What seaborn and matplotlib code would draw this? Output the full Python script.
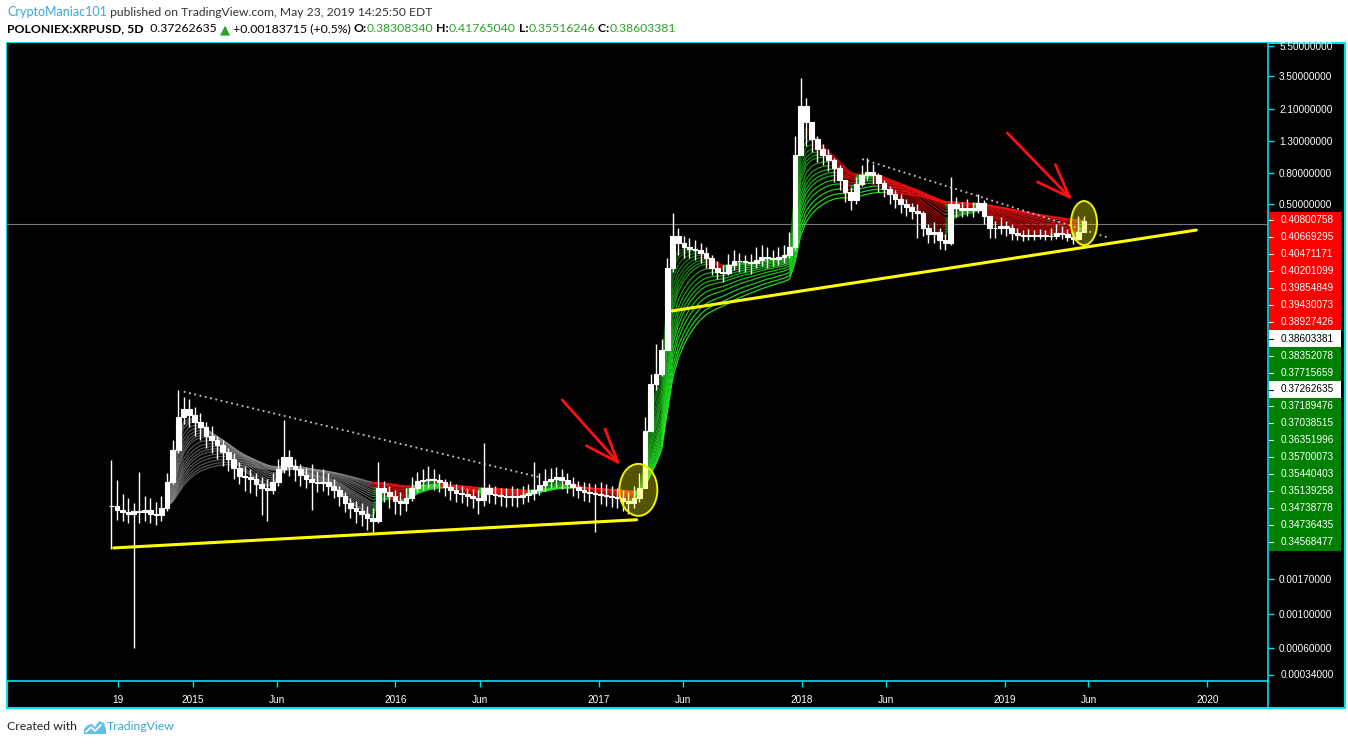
import numpy as np
import pandas as pd
import matplotlib
matplotlib.use("Agg")
import matplotlib.pyplot as plt
import matplotlib.dates as mdates
from matplotlib.collections import LineCollection
from matplotlib.patches import Ellipse, Rectangle, Polygon
from matplotlib.lines import Line2D
from matplotlib.ticker import FixedLocator, NullLocator
import seaborn as sns

W, H = 1348, 745

# XRPUSD, one bar every 10 days starting 2014-08-08
bar_start = "2014-08-08"
bar_step = "10D"
closes = [
    0.0052, 0.0049, 0.0047, 0.0046, 0.0048, 0.0047, 0.0049, 0.0046, 0.0045, 0.0050,
    0.0074, 0.0120, 0.0200, 0.0225, 0.0205, 0.0185, 0.0170, 0.0150, 0.0140, 0.0130,
    0.0118, 0.0105, 0.0092, 0.0082, 0.0080, 0.0078, 0.0072, 0.0068, 0.0066, 0.0074,
    0.0090, 0.0108, 0.0095, 0.0090, 0.0083, 0.0078, 0.0074, 0.0073, 0.0074, 0.0070,
    0.0066, 0.0060, 0.0054, 0.0050, 0.0048, 0.0046, 0.0043, 0.0041, 0.0068, 0.0064,
    0.0060, 0.0056, 0.0054, 0.0058, 0.0068, 0.0075, 0.0077, 0.0078, 0.0077, 0.0074,
    0.0069, 0.0066, 0.0063, 0.0062, 0.0060, 0.0058, 0.0057, 0.0068, 0.0062, 0.0061,
    0.0060, 0.0059, 0.0060, 0.0059, 0.0061, 0.0063, 0.0066, 0.0071, 0.0075, 0.0078,
    0.0080, 0.0077, 0.0072, 0.0069, 0.0066, 0.0064, 0.0063, 0.0062, 0.0061, 0.0060,
    0.0059, 0.0058, 0.0056, 0.0054, 0.0058, 0.0068, 0.0160, 0.0330, 0.0380, 0.0550,
    0.190, 0.310, 0.280, 0.260, 0.255, 0.250, 0.240, 0.220, 0.190, 0.180,
    0.176, 0.200, 0.210, 0.212, 0.208, 0.205, 0.215, 0.225, 0.220, 0.218,
    0.225, 0.230, 0.260, 1.050, 2.200, 1.750, 1.350, 1.150, 1.050, 0.980,
    0.860, 0.720, 0.600, 0.530, 0.680, 0.780, 0.820, 0.780, 0.690, 0.630,
    0.580, 0.540, 0.500, 0.480, 0.450, 0.440, 0.350, 0.320, 0.330, 0.290,
    0.280, 0.500, 0.470, 0.460, 0.470, 0.460, 0.510, 0.420, 0.350, 0.350,
    0.360, 0.350, 0.325, 0.315, 0.310, 0.315, 0.310, 0.315, 0.310, 0.310,
    0.325, 0.320, 0.305, 0.295, 0.330, 0.386,
]
highs = [
    0.0104, 0.0077, 0.0062, 0.0058, 0.0054, 0.0086, 0.0060, 0.0058, 0.0055, 0.0060,
    0.0085, 0.0140, 0.0300, 0.0270, 0.0260, 0.0230, 0.0210, 0.0185, 0.0175, 0.0150,
    0.0140, 0.0125, 0.0115, 0.0100, 0.0095, 0.0090, 0.0085, 0.0080, 0.0078, 0.0085,
    0.0105, 0.0190, 0.0120, 0.0105, 0.0098, 0.0092, 0.0098, 0.0088, 0.0090, 0.0085,
    0.0078, 0.0070, 0.0064, 0.0058, 0.0056, 0.0054, 0.0052, 0.0050, 0.0100, 0.0075,
    0.0070, 0.0066, 0.0064, 0.0068, 0.0080, 0.0086, 0.0090, 0.0095, 0.0090, 0.0084,
    0.0078, 0.0075, 0.0072, 0.0070, 0.0068, 0.0067, 0.0066, 0.0134, 0.0072, 0.0070,
    0.0068, 0.0068, 0.0070, 0.0068, 0.0070, 0.0072, 0.0100, 0.0085, 0.0090, 0.0092,
    0.0094, 0.0090, 0.0085, 0.0080, 0.0076, 0.0074, 0.0073, 0.0072, 0.0074, 0.0072,
    0.0070, 0.0068, 0.0066, 0.0064, 0.0070, 0.0085, 0.0200, 0.0380, 0.0600, 0.0650,
    0.220, 0.440, 0.350, 0.310, 0.300, 0.290, 0.280, 0.260, 0.230, 0.210,
    0.200, 0.235, 0.250, 0.240, 0.230, 0.235, 0.260, 0.270, 0.260, 0.250,
    0.260, 0.270, 0.330, 1.400, 3.400, 2.500, 1.600, 1.400, 1.250, 1.150,
    1.000, 0.900, 0.720, 0.650, 0.750, 0.900, 1.000, 0.920, 0.800, 0.720,
    0.660, 0.620, 0.580, 0.540, 0.510, 0.500, 0.450, 0.370, 0.380, 0.350,
    0.320, 0.760, 0.560, 0.520, 0.540, 0.520, 0.580, 0.530, 0.420, 0.390,
    0.410, 0.390, 0.370, 0.350, 0.340, 0.345, 0.340, 0.345, 0.340, 0.350,
    0.370, 0.360, 0.345, 0.330, 0.420, 0.4177,
]
lows = [
    0.0027, 0.0042, 0.0041, 0.0040, 0.0006, 0.0040, 0.0041, 0.0040, 0.0039, 0.0041,
    0.0048, 0.0072, 0.0115, 0.0180, 0.0170, 0.0150, 0.0140, 0.0125, 0.0115, 0.0105,
    0.0095, 0.0088, 0.0078, 0.0072, 0.0065, 0.0063, 0.0060, 0.0045, 0.0041, 0.0062,
    0.0070, 0.0085, 0.0082, 0.0075, 0.0070, 0.0068, 0.0049, 0.0064, 0.0065, 0.0061,
    0.0058, 0.0052, 0.0047, 0.0043, 0.0040, 0.0038, 0.0036, 0.0035, 0.0040, 0.0055,
    0.0050, 0.0046, 0.0045, 0.0048, 0.0056, 0.0064, 0.0066, 0.0068, 0.0066, 0.0064,
    0.0060, 0.0057, 0.0055, 0.0054, 0.0052, 0.0050, 0.0046, 0.0052, 0.0054, 0.0053,
    0.0052, 0.0051, 0.0052, 0.0051, 0.0053, 0.0055, 0.0057, 0.0061, 0.0065, 0.0068,
    0.0069, 0.0067, 0.0063, 0.0060, 0.0058, 0.0056, 0.0055, 0.0035, 0.0053, 0.0052,
    0.0051, 0.0050, 0.0048, 0.0046, 0.0050, 0.0055, 0.0075, 0.0160, 0.0300, 0.0370,
    0.055, 0.180, 0.230, 0.220, 0.220, 0.215, 0.205, 0.190, 0.170, 0.160,
    0.155, 0.170, 0.185, 0.180, 0.180, 0.175, 0.190, 0.195, 0.190, 0.195,
    0.200, 0.205, 0.220, 0.250, 1.300, 1.200, 1.100, 0.950, 0.900, 0.830,
    0.700, 0.620, 0.520, 0.460, 0.500, 0.660, 0.720, 0.680, 0.600, 0.560,
    0.500, 0.470, 0.440, 0.420, 0.400, 0.300, 0.310, 0.280, 0.280, 0.255,
    0.250, 0.270, 0.410, 0.410, 0.420, 0.410, 0.440, 0.370, 0.300, 0.300,
    0.320, 0.310, 0.290, 0.290, 0.285, 0.290, 0.290, 0.295, 0.290, 0.290,
    0.295, 0.295, 0.285, 0.275, 0.290, 0.3552,
]

# moving average ribbon settings
ema_spans = [3, 3.5, 4, 5, 6, 7, 8, 9, 10, 12, 14, 16, 18, 20, 23, 26, 30, 34, 38]
colour_from = "2015-12-01"

last_price = 0.37262635
price_ticks = [5.5, 3.5, 2.1, 1.3, 0.8, 0.5, 0.0017, 0.001, 0.0006]
clamped_tick = 0.00034

time_ticks = ["2014-08-19", "2015-01-01", "2015-06-01", "2016-01-01", "2016-06-01",
              "2017-01-01", "2017-06-01", "2018-01-01", "2018-06-01", "2019-01-01",
              "2019-06-01", "2020-01-01"]
time_labels = ["19", "2015", "Jun", "2016", "Jun", "2017", "Jun", "2018", "Jun",
               "2019", "Jun", "2020"]

tag_values = ["0.40800758", "0.40669295", "0.40471171", "0.40201099", "0.39854849",
              "0.39430073", "0.38927426", "0.38603381", "0.38352078", "0.37715659",
              "0.37262635", "0.37189476", "0.37038515", "0.36351996", "0.35700073",
              "0.35440403", "0.35139258", "0.34738778", "0.34736435", "0.34568477"]
tag_kinds = ["r", "r", "r", "r", "r", "r", "r", "w", "g", "g",
             "w", "g", "g", "g", "g", "g", "g", "g", "g", "g"]

# drawings on the chart
support_dates = [["2014-08-12", "2017-03-10"], ["2017-05-13", "2019-12-12"]]
support_prices = [[0.00274, 0.0042], [0.0994, 0.338]]
resist_dates = [["2014-12-16", "2016-09-16"], ["2018-04-20", "2019-07-08"]]
resist_prices = [[0.0292, 0.0080], [0.99, 0.30]]
circle_dates = ["2017-03-13", "2019-05-24"]
circle_prices = [0.0066, 0.376]
circle_px = [(38, 52), (26, 44)]
arrow_from = [("2016-10-27", 0.0258), ("2019-01-06", 1.47)]
arrow_to = [("2017-02-09", 0.0096), ("2019-05-03", 0.533)]

CYAN = "#00e0ee"
TV_BLUE = "#3aa6dc"
GREEN_TXT = "#2aa12a"

sns.set_theme(style="dark", rc={"axes.facecolor": "black", "figure.facecolor": "white"})
plt.rcParams["font.family"] = ["Liberation Sans", "DejaVu Sans"]


def fx(x):
    return x / W


def fy(y):
    return 1 - y / H


fig = plt.figure(figsize=(W / 100, H / 100), dpi=100)

# outer chart frame
fig.patches.append(Rectangle((fx(7), fy(708)), (1345 - 7) / W, (708 - 43) / H,
                             transform=fig.transFigure, facecolor="black",
                             edgecolor=CYAN, lw=1.5, zorder=-1))
fig.lines.append(Line2D([fx(1268), fx(1268)], [fy(681), fy(708)],
                        transform=fig.transFigure, color=CYAN, lw=1.2))

AXW, AXH = 1268 - 7, 681 - 43
ax = fig.add_axes([fx(7), fy(681), AXW / W, AXH / H])
ax.set_facecolor("black")
ax.grid(False)
ax.set_yscale("log")
ax.set_ylim(0.000365, 5.75)
ax.set_xlim(mdates.date2num(pd.Timestamp("2014-02-01")),
            mdates.date2num(pd.Timestamp("2020-04-19")))

dates = pd.date_range(bar_start, periods=len(closes), freq=bar_step)
xd = mdates.date2num(dates)
c = np.array(closes)
o = np.array([closes[0]] + closes[:-1])
bot = np.minimum(o, c)
top = np.maximum(o, c)

# moving average ribbon
s = pd.Series(c)
cut = mdates.date2num(pd.Timestamp(colour_from))
n = len(ema_spans)
dark_g, lite_g = np.array([0.05, 0.42, 0.05]), np.array([0.15, 0.95, 0.15])
dark_r, lite_r = np.array([0.50, 0.0, 0.0]), np.array([1.0, 0.08, 0.08])
for k, sp in enumerate(ema_spans):
    e = s.ewm(span=sp, adjust=False).mean().to_numpy()
    pts = np.column_stack([xd, e])[10:]
    segs = np.stack([pts[:-1], pts[1:]], axis=1)
    t = k / (n - 1)
    g = dark_g + (lite_g - dark_g) * t
    r = dark_r + (lite_r - dark_r) * t
    cols = []
    for j in range(1, len(pts)):
        if pts[j, 0] < cut:
            cols.append((0.55, 0.55, 0.55, 0.6))
        elif pts[j, 1] >= pts[j - 1, 1]:
            cols.append((*g, 0.9))
        else:
            cols.append((*r, 0.9))
    ax.add_collection(LineCollection(segs, colors=cols, linewidths=0.9, zorder=2),
                      autolim=False)

ax.axhline(last_price, color="#7a7a7a", lw=0.8, zorder=1)

# candles
ax.vlines(xd, lows, highs, color="white", lw=1, zorder=4)
ax.bar(xd, top - bot, bottom=bot, width=8.5, color="white", edgecolor="white",
       lw=0.8, zorder=4)

# trend lines
for d, p in zip(support_dates, support_prices):
    sns.lineplot(x=mdates.date2num(pd.to_datetime(d)), y=p, ax=ax,
                 color="#ffff00", lw=2.2, zorder=5)
for d, p in zip(resist_dates, resist_prices):
    sns.lineplot(x=mdates.date2num(pd.to_datetime(d)), y=p, ax=ax,
                 color="#c8c8c8", lw=1.3, linestyle=(0, (1, 2)), zorder=5)

# highlight circles
for d, p, (w, h) in zip(circle_dates, circle_prices, circle_px):
    disp = ax.transData.transform((mdates.date2num(pd.Timestamp(d)), p))
    cen = ax.transAxes.inverted().transform(disp)
    ax.add_patch(Ellipse(cen, w / AXW, h / AXH, transform=ax.transAxes,
                         facecolor=(1, 1, 0, 0.33), edgecolor="#f2f200",
                         lw=1.4, zorder=6))

# arrows
for (d0, p0), (d1, p1) in zip(arrow_from, arrow_to):
    ax.annotate("", xy=(mdates.date2num(pd.Timestamp(d1)), p1),
                xytext=(mdates.date2num(pd.Timestamp(d0)), p0),
                arrowprops=dict(arrowstyle="->,head_length=2.0,head_width=0.75",
                                color="#ff1010", lw=2, shrinkA=0, shrinkB=0),
                zorder=7)

# axes styling
for side in ["left", "top"]:
    ax.spines[side].set_visible(False)
for side in ["right", "bottom"]:
    ax.spines[side].set_color(CYAN)
    ax.spines[side].set_linewidth(1.2)
ax.yaxis.tick_right()
ax.yaxis.set_major_locator(FixedLocator(price_ticks))
ax.yaxis.set_minor_locator(NullLocator())
ax.set_yticklabels([f"{v:.8f}" for v in price_ticks])
ax.xaxis.set_major_locator(FixedLocator(mdates.date2num(pd.to_datetime(time_ticks))))
ax.xaxis.set_minor_locator(NullLocator())
ax.set_xticklabels(time_labels)
ax.tick_params(axis="y", which="major", direction="out", length=4, width=1,
               color=CYAN, labelcolor="white", labelsize=7.2, pad=4, right=True, left=False)
ax.tick_params(axis="x", which="major", direction="out", length=4, width=1,
               color=CYAN, labelcolor="white", labelsize=7.2, pad=6, bottom=True)
ax.set_xlabel("")
ax.set_ylabel("")

# price tags on the scale
step = 16.95
for i, (val, kind) in enumerate(zip(tag_values, tag_kinds)):
    yc = 220 + i * step
    bg = {"r": "#ff0000", "g": "#008000", "w": "#ffffff"}[kind]
    fg = "black" if kind == "w" else "white"
    fig.patches.append(Rectangle((fx(1268.5), fy(yc + step / 2)), (1341 - 1268.5) / W,
                                 step / H, transform=fig.transFigure, facecolor=bg,
                                 edgecolor="none", zorder=3))
    fig.lines.append(Line2D([fx(1269), fx(1273)], [fy(yc), fy(yc)],
                            transform=fig.transFigure, color=fg, lw=0.8, zorder=4))
    fig.text(fx(1281), fy(yc), val, color=fg, fontsize=7.2, va="center", ha="left",
             zorder=4)
fig.lines.append(Line2D([fx(1269), fx(1273)], [fy(675), fy(675)],
                        transform=fig.transFigure, color=CYAN, lw=1))
fig.text(fx(1281), fy(675), f"{clamped_tick:.8f}", color="white", fontsize=7.2,
         va="center", ha="left")

# header and footer text
HFONT = ["Lato", "DejaVu Sans"]
renderer = fig.canvas.get_renderer()


def text_run(parts, x, y):
    for txt, col, wt, size in parts:
        t = fig.text(fx(x), fy(y), txt, color=col, fontsize=size, fontweight=wt,
                     va="center", ha="left", family=HFONT)
        x = t.get_window_extent(renderer=renderer).x1


text_run([("CryptoManiac101", TV_BLUE, "normal", 9.0),
          (" published on TradingView.com, May 23, 2019 14:25:50 EDT", "#333333",
           "normal", 8.7)],
         7, 12)
text_run([("POLONIEX:XRPUSD, 5D", "black", "bold", 8.8),
          ("  0.37262635 ", "black", "normal", 8.8),
          ("▲", GREEN_TXT, "normal", 9.5),
          (" +0.00183715 (+0.5%) ", "black", "normal", 8.8),
          ("O:", "black", "bold", 8.8), ("0.38308340", GREEN_TXT, "normal", 8.8),
          (" H:", "black", "bold", 8.8), ("0.41765040", GREEN_TXT, "normal", 8.8),
          (" L:", "black", "bold", 8.8), ("0.35516246", GREEN_TXT, "normal", 8.8),
          (" C:", "black", "bold", 8.8), ("0.38603381", GREEN_TXT, "normal", 8.8)],
         7, 29)

text_run([("Created with", "#222222", "normal", 8.8)], 7, 727)
logo = [(84, 734), (84, 729), (88, 725), (92, 724), (95, 727), (99, 721),
        (104, 723), (106, 729), (106, 734)]
fig.patches.append(Polygon([(fx(a), fy(b)) for a, b in logo], closed=True,
                           transform=fig.transFigure, facecolor="#62c0e8",
                           edgecolor="none"))
fig.lines.append(Line2D([fx(a) for a in (86, 91, 95, 101)],
                        [fy(b) for b in (732, 727, 731, 725)],
                        transform=fig.transFigure, color="white", lw=1.2))
text_run([("TradingView", TV_BLUE, "normal", 8.8)], 107, 727)

fig.savefig("out.png", dpi=100, facecolor="white")
